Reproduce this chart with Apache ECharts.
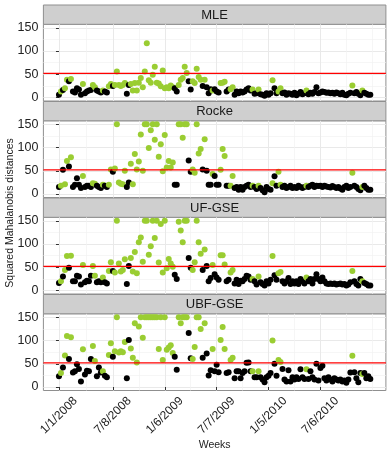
<!DOCTYPE html>
<html>
<head>
<meta charset="utf-8">
<script src="https://cdn.jsdelivr.net/npm/echarts@6/dist/echarts.min.js"></script>
<style>
html,body{margin:0;padding:0;background:#fff;}
#c{width:390px;height:455px;}
</style>
</head>
<body>
<div id="c"></div>
<script>
// ---- data ----
const panelNames = ['MLE', 'Rocke', 'UF-GSE', 'UBF-GSE'];
const tickWeeks = [0, 27, 53, 79, 105, 131];
const tickLabels = ['1/1/2008', '7/8/2008', '1/6/2009', '7/7/2009', '1/5/2010', '7/6/2010'];
const minorWeeks = [13.5, 40, 66, 92, 118, 144, 157];
const yTicks = [0, 50, 100, 150];
const yMinor = [25, 75, 125];
const threshold = 52;

// weeks whose points are drawn in green
const greenWeeks = [1, 3, 4, 6, 12, 17, 18, 22, 25, 26, 28, 29, 30, 31, 32, 33,
  36, 37, 38, 39, 40, 41, 42, 43, 44, 45, 46, 47, 48, 49, 50, 51, 52, 53, 54, 55, 56, 57,
  60, 61, 62, 63, 64, 67, 68, 69, 70, 71, 73, 77, 81, 82, 83, 86, 87, 97, 100, 107,
  110, 111, 124, 147, 152];

const mle = [
  6, 13, 16, 20, 38, 35, 40, 13, 11, 20,
  17, 6, 29, 9, 13, 15, 16, 27, 22, 15,
  13, 11, 15, 13, 11, 24, 29, 25, 27, 56,
  27, 25, 27, 31, 8, 27, 29, 15, 31, 15,
  32, 42, 22, 56, 117, 37, 32, 49, 66, 32,
  30, 24, 58, 20, 22, 20, 26, 22, 20, 13,
  27, 38, 42, 66, 53, 35, 17, 35, 31, 62,
  44, 38, 25, 38, 22, 9, 18, 15, 18, 13,
  11, 31, 32, 34, 13, 17, 18, 22, 6, 13,
  9, 13, 11, 13, 17, 20, 15, 17, 8, 9,
  17, 7, 6, 4, 9, 6, 9, 37, 20, 9,
  13, 20, 9, 11, 6, 9, 8, 6, 10, 5,
  8, 12, 7, 9, 15, 7, 10, 8, 12, 22,
  9, 11, 13, 12, 10, 11, 9, 10, 8, 11,
  9, 7, 10, 6, 5, 8, 10, 26, 9, 12,
  8, 5, 15, 10, 8, 6, 6
];
const rocke = [
  15, 18, 52, 21, 71, 59, 79, 15, 20, 34,
  20, 13, 39, 15, 18, 18, 15, 23, 22, 18,
  15, 13, 20, 18, 15, 20, 53, 48, 55, 150,
  25, 22, 21, 50, 15, 25, 65, 21, 86, 53,
  70, 128, 50, 150, 150, 99, 137, 150, 117, 150,
  80, 107, 49, 127, 57, 71, 57, 68, 20, 20,
  150, 150, 121, 150, 150, 72, 48, 53, 46, 150,
  87, 97, 53, 118, 50, 20, 20, 43, 39, 20,
  20, 52, 97, 82, 18, 18, 18, 39, 13, 15,
  9, 15, 9, 15, 18, 20, 15, 18, 15, 11,
  18, 13, 8, 4, 15, 11, 9, 23, 38, 18,
  48, 20, 15, 18, 13, 15, 18, 13, 15, 13,
  18, 15, 13, 15, 18, 15, 18, 20, 15, 18,
  17, 18, 15, 18, 16, 15, 14, 17, 15, 13,
  15, 12, 9, 15, 18, 13, 15, 46, 18, 15,
  11, 8, 15, 18, 13, 9, 9
];
const ufGse = [
  16, 20, 30, 44, 74, 49, 75, 20, 20, 32,
  30, 13, 55, 18, 21, 20, 32, 53, 32, 18,
  20, 18, 28, 18, 15, 42, 61, 42, 39, 150,
  58, 41, 44, 67, 14, 53, 70, 41, 83, 37,
  104, 114, 62, 150, 150, 77, 95, 150, 113, 150,
  60, 143, 39, 150, 48, 68, 58, 51, 34, 25,
  148, 129, 104, 150, 150, 70, 49, 44, 61, 150,
  104, 79, 44, 88, 53, 20, 27, 55, 35, 28,
  23, 76, 76, 56, 20, 23, 39, 44, 15, 23,
  14, 21, 20, 25, 32, 30, 23, 25, 20, 13,
  30, 18, 14, 11, 20, 15, 23, 74, 33, 23,
  37, 40, 20, 15, 20, 27, 14, 20, 15, 20,
  14, 25, 20, 15, 28, 20, 25, 15, 25, 35,
  25, 20, 28, 20, 15, 14, 15, 14, 15, 13,
  14, 15, 13, 14, 11, 13, 18, 42, 20, 14,
  11, 25, 20, 16, 14, 11, 11
];
const ubfGse = [
  23, 30, 42, 68, 110, 60, 107, 31, 34, 49,
  39, 12, 81, 27, 35, 34, 60, 88, 56, 23,
  42, 31, 34, 24, 21, 69, 94, 65, 77, 150,
  74, 77, 75, 97, 19, 101, 83, 63, 137, 53,
  130, 150, 106, 150, 150, 150, 150, 150, 150, 150,
  82, 150, 58, 150, 80, 85, 90, 73, 65, 37,
  150, 137, 150, 150, 150, 116, 62, 60, 86, 150,
  150, 125, 63, 137, 72, 25, 36, 82, 34, 48,
  32, 101, 129, 82, 30, 32, 58, 63, 19, 34,
  34, 19, 30, 34, 52, 53, 34, 34, 21, 21,
  34, 21, 16, 10, 21, 24, 30, 100, 50, 24,
  58, 54, 39, 16, 12, 36, 12, 21, 16, 21,
  17, 38, 21, 17, 38, 17, 34, 21, 16, 50,
  14, 41, 46, 19, 14, 21, 16, 12, 19, 16,
  14, 16, 12, 14, 9, 16, 31, 67, 32, 19,
  10, 30, 28, 30, 19, 23, 17
];
const panelValues = [mle, rocke, ufGse, ubfGse];

// ---- layout / style ----
const FONT = 'Liberation Sans, Arial, Helvetica, sans-serif';
const GREEN = '#9acd32';
const BLACK = '#000000';
const LAY = { left: 43.4, width: 342.5, stripTop: 5, stripH: 19.3, panelH: 76.7, period: 96.5 };
const X_MIN = -7.8, X_MAX = 163.8, Y_MIN = -7.5, Y_MAX = 157.5;
const greenSet = new Set(greenWeeks);

const grids = [], xAxes = [], yAxes = [], series = [], graphics = [];
panelValues.forEach((vals, k) => {
  const stripY = LAY.stripTop + k * LAY.period;
  const top = stripY + LAY.stripH;
  const last = k === panelValues.length - 1;
  grids.push({ left: LAY.left, width: LAY.width, top: top, height: LAY.panelH,
    show: true, borderColor: '#8f8f8f', borderWidth: 1, backgroundColor: '#fff' });
  xAxes.push({
    type: 'value', gridIndex: k, min: X_MIN, max: X_MAX, position: 'bottom',
    axisLine: { show: false },
    axisTick: { show: last, customValues: tickWeeks, length: 3, lineStyle: { color: '#333' } },
    axisLabel: { show: last, customValues: tickWeeks, rotate: 45, align: 'center', verticalAlign: 'middle',
      margin: 25, fontSize: 12, color: '#222', fontFamily: FONT,
      formatter: v => tickLabels[tickWeeks.indexOf(v)] || '' },
    splitLine: { show: true, lineStyle: { color: '#e9e9e9', width: 1 } },
    name: last ? 'Weeks' : '', nameLocation: 'middle', nameGap: 48,
    nameTextStyle: { fontSize: 10.5, color: '#222', fontFamily: FONT }
  });
  xAxes.push({
    type: 'value', gridIndex: k, min: X_MIN, max: X_MAX, position: 'top',
    axisLine: { show: false }, axisTick: { show: false, customValues: minorWeeks },
    axisLabel: { show: false },
    splitLine: { show: true, lineStyle: { color: '#f2f2f2', width: 0.7 } }
  });
  yAxes.push({
    type: 'value', gridIndex: k, min: Y_MIN, max: Y_MAX, position: 'left',
    axisLine: { show: false },
    axisTick: { show: true, customValues: yTicks, length: 3, lineStyle: { color: '#333' } },
    axisLabel: { customValues: yTicks, margin: 5, fontSize: 12.5, color: '#222', fontFamily: FONT },
    splitLine: { show: true, lineStyle: { color: '#e9e9e9', width: 1 } }
  });
  yAxes.push({
    type: 'value', gridIndex: k, min: Y_MIN, max: Y_MAX, position: 'right',
    axisLine: { show: false }, axisTick: { show: false, customValues: yMinor },
    axisLabel: { show: false },
    splitLine: { show: true, lineStyle: { color: '#f2f2f2', width: 0.7 } }
  });
  series.push({
    type: 'scatter', xAxisIndex: 2 * k, yAxisIndex: 2 * k,
    symbol: 'circle', symbolSize: 6, silent: true, z: 2,
    data: vals.map((v, i) => [i, v]),
    itemStyle: { opacity: 1, color: p => greenSet.has(p.dataIndex) ? GREEN : BLACK }
  });
  // threshold line, spanning the full panel width
  series.push({
    type: 'line', xAxisIndex: 2 * k, yAxisIndex: 2 * k, silent: true, z: 3,
    symbol: 'none', animation: false,
    data: [[X_MIN, threshold], [X_MAX, threshold]],
    lineStyle: { color: '#ff0000', width: 1.1, type: 'solid' },
    itemStyle: { color: '#ff0000' }
  });
  graphics.push({
    type: 'rect', shape: { x: LAY.left, y: stripY, width: LAY.width, height: LAY.stripH },
    style: { fill: '#cfcfcf', stroke: '#8f8f8f', lineWidth: 1 }
  });
  graphics.push({
    type: 'text', x: LAY.left + LAY.width / 2, y: stripY + LAY.stripH / 2 + 0.5,
    style: { text: panelNames[k], textAlign: 'center', textVerticalAlign: 'middle',
      fontSize: 13, fill: '#1a1a1a', fontFamily: FONT }
  });
});
graphics.push({
  type: 'text', x: 10, y: 213, rotation: Math.PI / 2,
  style: { text: 'Squared Mahalanobis distances', textAlign: 'center', textVerticalAlign: 'middle',
    fontSize: 10.5, fill: '#222', fontFamily: FONT }
});

const chart = echarts.init(document.getElementById('c'), null, { renderer: 'canvas' });
chart.setOption({
  animation: false,
  backgroundColor: '#ffffff',
  grid: grids, xAxis: xAxes, yAxis: yAxes, series: series,
  graphic: graphics
});
</script>
</body>
</html>
